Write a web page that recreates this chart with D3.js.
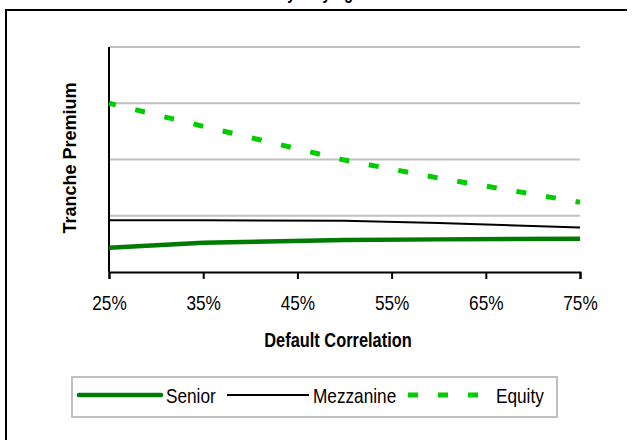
<!DOCTYPE html>
<html>
<head>
<meta charset="utf-8">
<script src="https://cdn.jsdelivr.net/npm/d3@7"></script>
<style>
  html, body { margin: 0; padding: 0; background: #fff; }
  svg { display: block; }
  text { font-family: "Liberation Sans", Arial, sans-serif; }
</style>
</head>
<body>
<svg id="chart" width="632" height="440"></svg>
<script>
// Default correlation levels at which the tranches were priced
const correlations = [0.25, 0.35, 0.50, 0.60, 0.75];
const tickValues = [0.25, 0.35, 0.45, 0.55, 0.65, 0.75];
const gridValues = [1, 2, 3, 4];

// Tranche premiums (relative units, no axis labels shown)
const senior = [0.43, 0.52, 0.57, 0.58, 0.59];
const mezzanine = [0.92, 0.92, 0.91, 0.87, 0.79];
const equity = [3.00, 2.59, 1.99, 1.67, 1.24];

const seriesNames = ["Senior", "Mezzanine", "Equity"];

// Horizontal text uses a condensed face
const NARROW = 0.82;

const svg = d3.select("#chart");

// Frame of the chart area
svg.append("path")
  .attr("d", "M6,440 V10 H627")
  .attr("fill", "none")
  .attr("stroke", "#000")
  .attr("stroke-width", 2);

// Title, mostly outside the visible area
svg.append("text")
  .attr("transform", `translate(316,-1) scale(${NARROW},1)`)
  .attr("text-anchor", "middle")
  .attr("font-weight", "bold")
  .attr("font-size", 18)
  .text("Tranche Premiums by Varying Default Correlation");

const x = d3.scaleLinear().domain([0.25, 0.75]).range([109, 580]);
const y = d3.scaleLinear().domain([0, 4]).range([272, 47]);

// Horizontal gridlines
svg.append("g")
  .selectAll("line")
  .data(gridValues)
  .join("line")
  .attr("x1", x(0.25)).attr("x2", x(0.75))
  .attr("y1", d => y(d)).attr("y2", d => y(d))
  .attr("stroke", "#c0c0c0")
  .attr("stroke-width", 2);

// Y axis (no tick labels)
svg.append("line")
  .attr("x1", x(0.25)).attr("x2", x(0.25))
  .attr("y1", y(4)).attr("y2", y(0))
  .attr("stroke", "#000").attr("stroke-width", 2);

// X axis
const xAxis = d3.axisBottom(x)
  .tickValues(tickValues)
  .tickSize(7)
  .tickPadding(14)
  .tickFormat(d3.format(".0%"));

const gx = svg.append("g")
  .attr("transform", `translate(0,${y(0)})`)
  .call(xAxis);
gx.select(".domain").attr("stroke", "#000").attr("stroke-width", 2);
gx.selectAll(".tick line").attr("stroke", "#000").attr("stroke-width", 2);
gx.selectAll(".tick text")
  .attr("font-family", "Liberation Sans, Arial, sans-serif")
  .attr("font-size", 21)
  .attr("fill", "#000")
  .attr("y", 0)
  .attr("dy", null)
  .attr("transform", `translate(0,38) scale(${NARROW},1)`);

// Axis titles
svg.append("text")
  .attr("transform", `translate(338,347) scale(${NARROW},1)`)
  .attr("text-anchor", "middle")
  .attr("font-weight", "bold")
  .attr("font-size", 20)
  .text("Default Correlation");

svg.append("text")
  .attr("transform", "translate(76,158) rotate(-90)")
  .attr("text-anchor", "middle")
  .attr("font-weight", "bold")
  .attr("font-size", 18)
  .text("Tranche Premium");

// Series lines
const line = d3.line()
  .x((d, i) => x(correlations[i]))
  .y(d => y(d));

const styles = {
  Senior: { color: "#007a00", width: 4.5, dash: null },
  Mezzanine: { color: "#000", width: 2, dash: null },
  Equity: { color: "#00cc00", width: 5, dash: "10,20" }
};
const values = { Senior: senior, Mezzanine: mezzanine, Equity: equity };

seriesNames.forEach(name => {
  const s = styles[name];
  const p = svg.append("path")
    .datum(values[name])
    .attr("d", line)
    .attr("fill", "none")
    .attr("stroke", s.color)
    .attr("stroke-width", s.width)
    .attr("stroke-linejoin", "round");
  if (s.dash) p.attr("stroke-dasharray", s.dash).attr("stroke-dashoffset", 3);
});

// Legend
const legend = svg.append("g");
legend.append("rect")
  .attr("x", 72).attr("y", 377)
  .attr("width", 485).attr("height", 40)
  .attr("fill", "#fff")
  .attr("stroke", "#c0c0c0")
  .attr("stroke-width", 2);

const legendItems = [
  { name: "Senior", x1: 79, x2: 161, tx: 166, cap: "round" },
  { name: "Mezzanine", x1: 227, x2: 309, tx: 313, cap: "butt" },
  { name: "Equity", x1: 408, x2: 480, tx: 496, cap: "butt" }
];
legendItems.forEach(it => {
  const s = styles[it.name];
  const l = legend.append("line")
    .attr("x1", it.x1).attr("x2", it.x2)
    .attr("y1", 395).attr("y2", 395)
    .attr("stroke", s.color)
    .attr("stroke-width", s.width)
    .attr("stroke-linecap", it.cap);
  if (s.dash) l.attr("stroke-dasharray", s.dash);
  legend.append("text")
    .attr("transform", `translate(${it.tx},403) scale(${NARROW},1)`)
    .attr("font-size", 21)
    .attr("fill", "#000")
    .text(it.name);
});
</script>
</body>
</html>
